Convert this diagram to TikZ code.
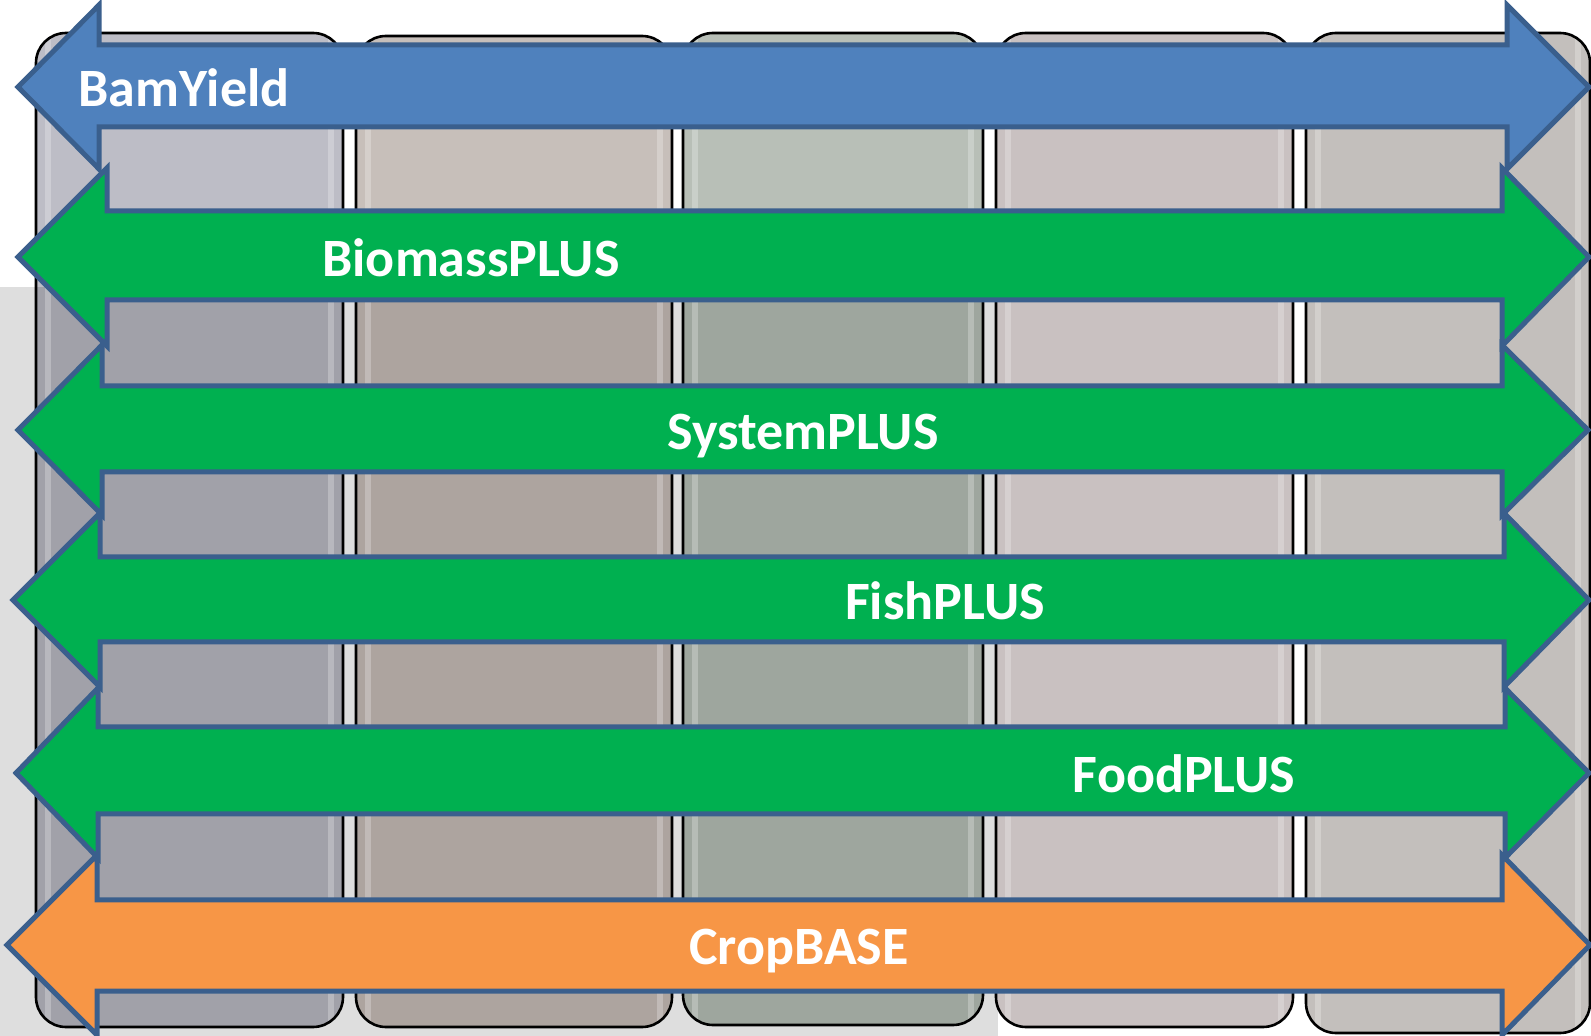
\documentclass[tikz,border=0pt]{standalone}
\usepackage{fontspec}
\setmainfont{Carlito}
\definecolor{arrowline}{HTML}{3A5F8D}
\definecolor{blueA}{HTML}{4F81BD}
\definecolor{greenA}{HTML}{00B050}
\definecolor{orangeA}{HTML}{F79646}
\definecolor{bgGray}{HTML}{DEDEDE}
\definecolor{cAtop}{HTML}{BDBDC6}
\definecolor{cAbot}{HTML}{A1A1A9}
\definecolor{cBtop}{HTML}{C7BFBA}
\definecolor{cBbot}{HTML}{ADA49F}
\definecolor{cCtop}{HTML}{B8BFB7}
\definecolor{cCbot}{HTML}{9EA69E}
\definecolor{cDtop}{HTML}{C9C1C1}
\definecolor{cDbot}{HTML}{C9C1C1}
\definecolor{cEtop}{HTML}{C3BFBC}
\definecolor{cEbot}{HTML}{C3BFBC}
\begin{document}
\begin{tikzpicture}[x=0.5pt,y=-0.5pt,
  colbox/.style={draw=black, line width=1.3pt, rounded corners=15pt},
  dblarrow/.style={draw=arrowline, line width=2.5pt, line join=miter},
  lbl/.style={text=white, font=\fontsize{27}{32}\selectfont\bfseries, inner sep=0pt}]
\useasboundingbox (0,0) rectangle (1591,1036);
\fill[white] (0,0) rectangle (1591,1036);
\fill[bgGray] (0,287) rectangle (998,1036);
% columns
\foreach \xa/\xb/\ya/\yb/\ct/\cb in {36/343/33/1027/cAtop/cAbot, 356/672/36/1027/cBtop/cBbot, 683/983/33/1025/cCtop/cCbot, 996/1293/33/1027/cDtop/cDbot, 1306/1590/33/1033/cEtop/cEbot}{
  \begin{scope}
    \clip[rounded corners=15pt] (\xa,\ya) rectangle (\xb,\yb);
    \fill[\ct] (\xa,\ya) rectangle (\xb,287);
    \fill[\cb] (\xa,287) rectangle (\xb,\yb);
    \fill[white, opacity=0.25] (\xa+9,\ya) rectangle (\xa+15,\yb);
    \fill[white, opacity=0.25] (\xb-15,\ya) rectangle (\xb-9,\yb);
  \end{scope}
  \draw[colbox] (\xa,\ya) rectangle (\xb,\yb);
}
% arrows: cy/tipL/backL/half/shaftTop/shaftBot/backR/tipR/fill
\foreach \cy/\tl/\bl/\h/\st/\sb/\br/\tr/\fc in {
  87/18/99/82/45/127/1507/1589/blueA,
  257/18/107/89/211/300/1502/1589/greenA,
  430/18/102/85/386/472/1502/1588/greenA,
  600/13/100/87/557/642/1504/1589/greenA,
  773/16/98/85/727/814/1505/1589/greenA,
  945/7/97/90/900/991/1502/1590/orangeA}{
  \filldraw[dblarrow, fill=\fc]
    (\tl,\cy) -- (\bl,\cy-\h) -- (\bl,\st) -- (\br,\st) -- (\br,\cy-\h)
    -- (\tr,\cy) -- (\br,\cy+\h) -- (\br,\sb) -- (\bl,\sb) -- (\bl,\cy+\h) -- cycle;
}
\node[lbl] (bam) at (184,88) {BamYield};
\node[lbl] (bio) at (471,258) {BiomassPLUS};
\node[lbl] (sys) at (803,436) {SystemPLUS};
\node[lbl] (fish) at (945,601) {FishPLUS};
\node[lbl] (food) at (1184,774) {FoodPLUS};
\node[lbl] (crop) at (799,951) {CropBASE};
\end{tikzpicture}
\end{document}
